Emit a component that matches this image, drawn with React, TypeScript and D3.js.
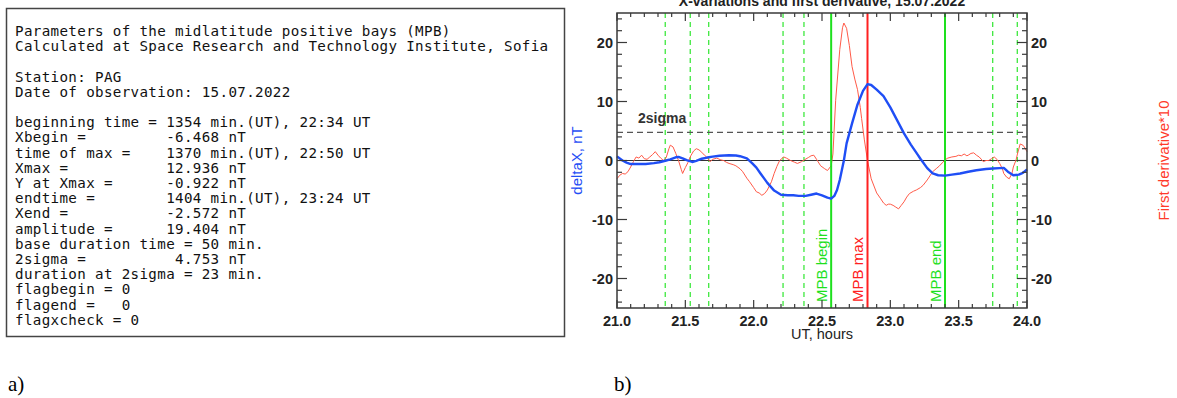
import * as d3 from "d3";

// left panel: parameter listing
const infoLines = [
  "Parameters of the midlatitude positive bays (MPB)",
  "Calculated at Space Research and Technology Institute, Sofia",
  "",
  "Station: PAG",
  "Date of observation: 15.07.2022",
  "",
  "beginning time = 1354 min.(UT), 22:34 UT",
  "Xbegin =         -6.468 nT",
  "time of max =    1370 min.(UT), 22:50 UT",
  "Xmax =           12.936 nT",
  "Y at Xmax =      -0.922 nT",
  "endtime =        1404 min.(UT), 23:24 UT",
  "Xend =           -2.572 nT",
  "amplitude =      19.404 nT",
  "base duration time = 50 min.",
  "2sigma =          4.753 nT",
  "duration at 2sigma = 23 min.",
  "flagbegin = 0",
  "flagend =   0",
  "flagxcheck = 0",
];

// deltaX (nT) vs UT hours
const hoursX = [
  21.0, 21.04, 21.07, 21.1, 21.15, 21.21, 21.27, 21.31, 21.36, 21.39, 21.43, 21.45, 21.48,
  21.51, 21.55, 21.58, 21.62, 21.66, 21.7, 21.75, 21.82, 21.87, 21.9, 21.95, 21.99, 22.02,
  22.05, 22.1, 22.15, 22.2, 22.25, 22.29, 22.33, 22.38, 22.42, 22.46, 22.5, 22.54, 22.567,
  22.59, 22.61, 22.63, 22.66, 22.68, 22.72, 22.76, 22.8, 22.833, 22.86, 22.9, 22.95, 23.0,
  23.05, 23.1, 23.15, 23.2, 23.22, 23.27, 23.31, 23.35, 23.4, 23.45, 23.51, 23.57, 23.63,
  23.7, 23.75, 23.8, 23.83, 23.86, 23.9, 23.94, 23.97, 24.0,
];
const deltaX = [
  0.7, 0.0, -0.35, -0.6, -0.6, -0.6, -0.45, -0.3, 0.0, 0.2, 0.55, 0.6, 0.35,
  0.05, -0.25, -0.05, 0.3, 0.5, 0.65, 0.8, 0.9, 0.85, 0.73, 0.35, -0.5, -1.2,
  -2.2, -3.8, -5.1, -5.8, -5.9, -5.9, -6.0, -6.0, -5.8, -5.6, -5.9, -6.3, -6.47,
  -6.0, -5.0, -3.3, 0.0, 2.9, 6.3, 9.5, 11.8, 12.94, 12.8, 12.0, 10.9, 9.0,
  6.8, 4.6, 2.7, 1.0, 0.3, -1.3, -2.2, -2.5, -2.57, -2.4, -2.2, -1.9, -1.65,
  -1.45, -1.36, -1.3, -1.25, -1.9, -2.5, -2.4, -2.1, -1.5,
];

// first derivative * 10
const hoursD = [
  21.0, 21.02, 21.04, 21.06, 21.08, 21.1, 21.12, 21.14, 21.16, 21.18, 21.2, 21.22, 21.24,
  21.26, 21.28, 21.3, 21.32, 21.34, 21.36, 21.38, 21.39, 21.41, 21.43, 21.45, 21.47, 21.48,
  21.5, 21.52, 21.54, 21.56, 21.58, 21.6, 21.62, 21.64, 21.66, 21.68, 21.7, 21.73, 21.76,
  21.78, 21.8, 21.82, 21.85, 21.87, 21.9, 21.92, 21.95, 21.97, 22.0, 22.02, 22.04, 22.06,
  22.08, 22.1, 22.13, 22.15, 22.17, 22.19, 22.22, 22.24, 22.27, 22.3, 22.32, 22.35, 22.37,
  22.4, 22.42, 22.44, 22.46, 22.49, 22.52, 22.54, 22.567, 22.58, 22.6, 22.63, 22.65, 22.66,
  22.68, 22.7, 22.72, 22.74, 22.76, 22.78, 22.79, 22.81, 22.833, 22.86, 22.9, 22.93, 22.95,
  22.97, 22.985, 23.0, 23.02, 23.04, 23.06, 23.08, 23.1, 23.12, 23.14, 23.17, 23.19, 23.22,
  23.24, 23.27, 23.29, 23.31, 23.34, 23.36, 23.38, 23.4, 23.42, 23.45, 23.48, 23.5, 23.52,
  23.54, 23.56, 23.57, 23.59, 23.61, 23.63, 23.65, 23.67, 23.68, 23.7, 23.72, 23.74, 23.76,
  23.78, 23.8, 23.82, 23.83, 23.85, 23.87, 23.89, 23.9, 23.92, 23.93, 23.95, 23.97, 23.98,
  24.0,
];
const deriv10 = [
  -3.1, -2.5, -2.2, -2.3, -1.9, -1.1, -0.2, 0.6, 0.4, 0.9, 0.3, 0.2, 0.6,
  1.0, 1.5, 0.9, 0.4, 0.0, 0.5, 2.0, 2.6, 2.3, 1.2, 0.0, -1.5, -2.2,
  -1.2, -0.3, 0.8, 1.6, 2.0, 1.8, 1.4, 0.9, 0.5, -0.2, 0.2, 0.4, 0.1,
  0.0, -0.3, -0.5, -0.7, -0.9, -1.4, -1.9, -3.0, -3.6, -4.6, -5.3, -5.5, -5.9,
  -5.6, -5.0, -3.6, -2.2, -1.0, 0.0, 0.6, 0.4, 0.0, -0.3, -0.5, -0.2, 0.1,
  0.5, 0.8, 0.9, 0.2, -0.9, -1.4, -1.7, -0.9, 1.1, 10.2, 18.8, 22.5, 23.3,
  22.4, 19.5, 15.9, 13.8, 12.0, 9.0, 7.1, 3.5, 0.0, -3.1, -5.5, -6.5, -7.2,
  -7.6, -7.4, -7.4, -7.6, -7.9, -8.2, -7.6, -7.0, -6.2, -5.6, -5.2, -5.0, -4.6,
  -4.2, -3.3, -2.6, -1.9, -1.3, -0.9, -0.4, 0.1, 0.4, 0.6, 0.7, 0.9, 0.8,
  1.1, 0.8, 0.9, 1.2, 1.3, 0.9, 0.6, 0.1, -0.2, 0.0, 0.0, 0.3, 0.6,
  0.2, -0.5, -1.4, -2.2, -2.8, -3.1, -2.2, -1.1, 0.1, 1.1, 2.8, 2.6, 2.3,
  1.5,
];

// candidate marks (dashed) and MPB markers
const dashedHours = [21.353, 21.536, 21.671, 22.215, 22.368, 23.749, 23.929];
const mpbBegin = 22.567;
const mpbMax = 22.833;
const mpbEnd = 23.4;
const twoSigma = 4.753;

const xMajor = d3.range(21, 24.001, 0.5);
const xMinor = d3.range(21, 24.001, 0.1);
const yMajor = [-20, -10, 0, 10, 20];
const yMinor = d3.range(-24, 24.1, 2);

const W = 1177;
const H = 398;
const plot = { left: 617, right: 1027, top: 13, bottom: 308 };

const x = d3.scaleLinear().domain([21, 24]).range([plot.left, plot.right]);
const y = d3.scaleLinear().domain([-25, 25]).range([plot.bottom, plot.top]);

const line = d3
  .line<[number, number]>()
  .x((d) => x(d[0]))
  .y((d) => y(d[1]));

const axisFont = "'Liberation Sans Narrow', 'Arial Narrow', 'Liberation Sans', sans-serif";
const axisColor = "#3a3a3a";

export default function App() {
  const bluePath = line(hoursX.map((h, i) => [h, deltaX[i]] as [number, number])) ?? "";
  const redPath = line(hoursD.map((h, i) => [h, deriv10[i]] as [number, number])) ?? "";
  const fmtX = d3.format(".1f");
  const yMid = (plot.top + plot.bottom) / 2;

  return (
    <svg
      width={W}
      height={H}
      style={{ position: "absolute", left: 0, top: 0, background: "#fff" }}
    >
      {/* a) text panel */}
      <rect x={6.5} y={8.5} width={558} height={328} fill="#fff" stroke="#444" strokeWidth={1.5} />
      <g fontFamily="'DejaVu Sans Mono', monospace" fontSize={14.2} fill="#111">
        {infoLines.map((t, i) => (
          <text
            key={i}
            x={15}
            y={36 + i * 15.2}
            letterSpacing={0.35}
            style={{ whiteSpace: "pre" }}
          >
            {t}
          </text>
        ))}
      </g>
      <text x={8} y={391} fontFamily="'Liberation Serif', 'Times New Roman', serif" fontSize={21} fill="#000">
        a)
      </text>
      <text x={614} y={391} fontFamily="'Liberation Serif', 'Times New Roman', serif" fontSize={21} fill="#000">
        b)
      </text>

      {/* b) chart */}
      <text
        x={(plot.left + plot.right) / 2}
        y={6}
        textAnchor="middle"
        fontFamily={axisFont}
        fontWeight="bold"
        fontSize={14}
        fill="#222"
      >
        X-variations and first derivative, 15.07.2022
      </text>

      {dashedHours.map((h) => (
        <line
          key={h}
          x1={x(h)}
          x2={x(h)}
          y1={plot.top}
          y2={plot.bottom}
          stroke="#3ee83e"
          strokeWidth={1.3}
          strokeDasharray="5,4"
        />
      ))}

      <line
        x1={plot.left}
        x2={plot.right}
        y1={y(twoSigma)}
        y2={y(twoSigma)}
        stroke="#555"
        strokeWidth={1.3}
        strokeDasharray="6,4"
      />
      <line x1={plot.left} x2={plot.right} y1={y(0)} y2={y(0)} stroke="#333" strokeWidth={1} />
      <text x={638} y={123} fontFamily={axisFont} fontWeight="bold" fontSize={14} fill="#333">
        2sigma
      </text>

      <path d={redPath} fill="none" stroke="#ff5a48" strokeWidth={1} />

      <line x1={x(mpbBegin)} x2={x(mpbBegin)} y1={plot.top} y2={plot.bottom} stroke="#1ee01e" strokeWidth={2} />
      <line x1={x(mpbMax)} x2={x(mpbMax)} y1={plot.top} y2={plot.bottom} stroke="#ff2020" strokeWidth={2} />
      <line x1={x(mpbEnd)} x2={x(mpbEnd)} y1={plot.top} y2={plot.bottom} stroke="#1ee01e" strokeWidth={2} />

      <path d={bluePath} fill="none" stroke="#1f4ef5" strokeWidth={2.4} strokeLinejoin="round" />

      {[
        { h: mpbBegin, label: "MPB begin", color: "#1ee01e" },
        { h: mpbMax, label: "MPB max", color: "#ff2020" },
        { h: mpbEnd, label: "MPB end", color: "#1ee01e" },
      ].map((m) => (
        <text
          key={m.label}
          transform={`translate(${x(m.h) - 4.5},${plot.bottom - 6}) rotate(-90)`}
          fontFamily={axisFont}
          fontSize={15}
          fill={m.color}
        >
          {m.label}
        </text>
      ))}

      {/* frame */}
      <rect
        x={plot.left}
        y={plot.top}
        width={plot.right - plot.left}
        height={plot.bottom - plot.top}
        fill="none"
        stroke={axisColor}
        strokeWidth={1.5}
      />

      {/* x ticks, inward on top and bottom */}
      {xMinor.map((v) => {
        const major = xMajor.some((m) => Math.abs(m - v) < 1e-6);
        const len = major ? 8 : 4;
        return (
          <g key={`xt${v.toFixed(1)}`} stroke={axisColor} strokeWidth={1.2}>
            <line x1={x(v)} x2={x(v)} y1={plot.bottom} y2={plot.bottom - len} />
            <line x1={x(v)} x2={x(v)} y1={plot.top} y2={plot.top + len} />
          </g>
        );
      })}
      {xMajor.map((v) => (
        <text
          key={`xl${v}`}
          x={x(v)}
          y={326}
          textAnchor="middle"
          fontFamily={axisFont}
          fontWeight="bold"
          fontSize={14.5}
          fill="#222"
        >
          {fmtX(v)}
        </text>
      ))}
      <text
        x={(plot.left + plot.right) / 2}
        y={339}
        textAnchor="middle"
        fontFamily={axisFont}
        fontSize={14.5}
        fill="#222"
      >
        UT, hours
      </text>

      {/* y ticks, inward on left and right */}
      {yMinor.map((v) => {
        const major = yMajor.includes(v);
        const len = major ? 10 : 5;
        return (
          <g key={`yt${v}`} stroke={axisColor} strokeWidth={1.2}>
            <line x1={plot.left} x2={plot.left + len} y1={y(v)} y2={y(v)} />
            <line x1={plot.right} x2={plot.right - len} y1={y(v)} y2={y(v)} />
          </g>
        );
      })}
      {yMajor.map((v) => (
        <g key={`yl${v}`} fontFamily={axisFont} fontWeight="bold" fontSize={14.5} fill="#222">
          <text x={plot.left - 4} y={y(v) + 5} textAnchor="end">
            {v}
          </text>
          <text x={plot.right + 4} y={y(v) + 5} textAnchor="start">
            {v}
          </text>
        </g>
      ))}

      <text
        transform={`translate(582,${yMid}) rotate(-90)`}
        textAnchor="middle"
        fontFamily={axisFont}
        fontSize={15}
        fill="#1f4ef5"
      >
        deltaX, nT
      </text>
      <text
        transform={`translate(1169,${yMid}) rotate(-90)`}
        textAnchor="middle"
        fontFamily={axisFont}
        fontSize={15}
        fill="#ff3a2a"
      >
        First derivative*10
      </text>
    </svg>
  );
}
